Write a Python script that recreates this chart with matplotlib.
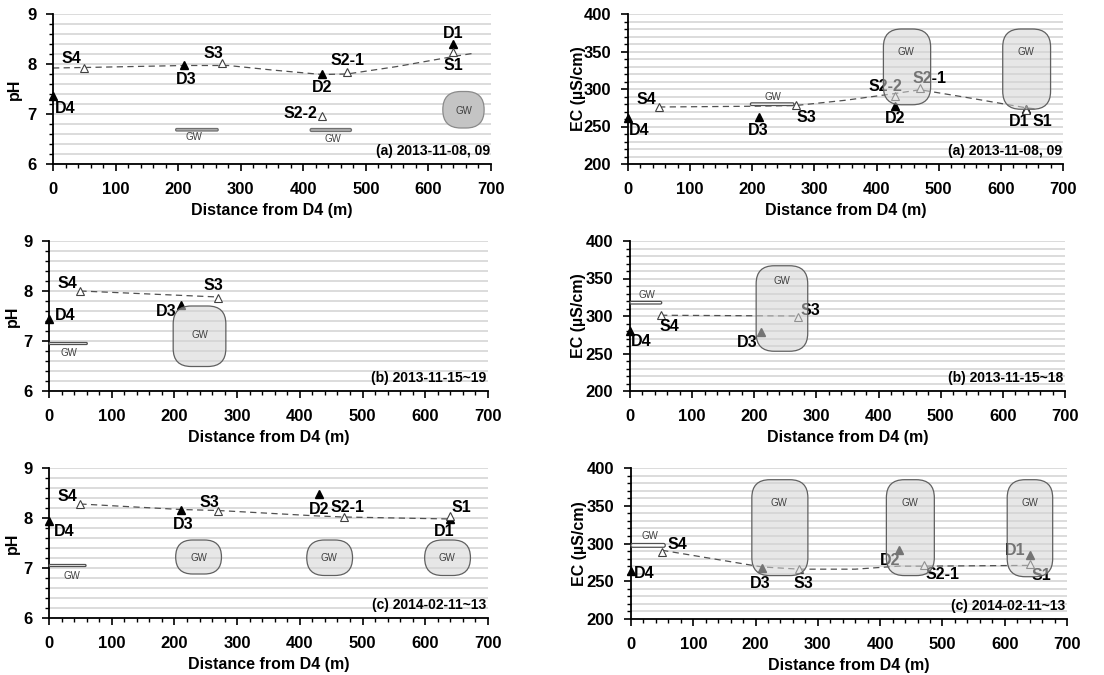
import matplotlib
matplotlib.use("Agg")
import matplotlib.pyplot as plt
from matplotlib.patches import FancyBboxPatch
from matplotlib.ticker import MultipleLocator

plt.rcParams['font.family'] = ['Liberation Sans', 'DejaVu Sans']

# stations and their distance from D4 (m)
stations = ['D4', 'S4', 'D3', 'S3', 'D2', 'S2-1', 'S2-2', 'D1', 'S1']
distance = [0, 50, 210, 270, 430, 470, 430, 640, 640]

# pH / EC per survey (None = not sampled)
ph_a = [7.37, 7.93, 7.98, 8.02, 7.80, 7.85, 6.97, 8.40, 8.24]
ph_b = [7.45, 8.00, 7.72, 7.87, None, None, None, None, None]
ph_c = [7.94, 8.28, 8.17, 8.14, 8.48, 8.02, None, 7.98, 8.04]
ec_a = [261, 276, 263, 279, 278, 302, 291, 274, 272]
ec_b = [280, 302, 279, 299, None, None, None, None, None]
ec_c = [263, 289, 267, 266, 292, 271, None, 285, 273]

# dashed trend lines
trend_ph_a_x = [0, 50, 130, 210, 280, 350, 430, 470, 550, 640, 670]
trend_ph_a_y = [7.92, 7.93, 7.95, 7.97, 7.97, 7.88, 7.79, 7.80, 7.95, 8.15, 8.21]
trend_ec_a_x = [50, 200, 270, 350, 430, 470, 550, 640, 660]
trend_ec_a_y = [276, 277, 278, 285, 294, 299, 288, 275, 273]
trend_ph_b_x = [50, 270]
trend_ph_b_y = [8.00, 7.88]
trend_ec_b_x = [50, 270]
trend_ec_b_y = [301, 300]
trend_ph_c_x = [50, 210, 270, 430, 470, 640]
trend_ph_c_y = [8.28, 8.17, 8.15, 8.04, 8.02, 7.98]
trend_ec_c_x = [50, 210, 270, 360, 430, 470, 640]
trend_ec_c_y = [291, 269, 266, 266, 270, 270, 271]

# groundwater (GW) zones: x0, x1, y0, y1, kind
gw_ph_a = [(196, 264, 6.66, 6.71, 'bardark'), (411, 477, 6.65, 6.71, 'bardark'),
           (623, 689, 6.72, 7.45, 'dark')]
gw_ec_a = [(197, 267, 278, 281.5, 'bar'), (411, 487, 279, 380, 'box'),
           (603, 680, 273, 380, 'box')]
gw_ph_b = [(0, 61, 6.93, 6.97, 'bar'), (198, 282, 6.49, 7.70, 'box')]
gw_ec_b = [(0, 51, 316, 319.5, 'bar'), (203, 286, 253, 367, 'box')]
gw_ph_c = [(0, 59, 7.03, 7.07, 'bar'), (202, 275, 6.88, 7.56, 'box'),
           (411, 484, 6.85, 7.56, 'box'), (599, 672, 6.85, 7.56, 'box')]
gw_ec_c = [(0, 55, 295, 300, 'bar'), (194, 284, 257.5, 384.5, 'box'),
           (410, 487, 257.5, 384.5, 'box'), (604, 677, 256, 384.5, 'box')]
# GW text positions
gwtxt_ph_a = [(226, 6.53), (448, 6.50), (656, 7.07)]
gwtxt_ec_a = [(233, 289.5), (448, 349), (641, 349)]
gwtxt_ph_b = [(32, 6.77), (240, 7.12)]
gwtxt_ec_b = [(28, 328.6), (244, 346)]
gwtxt_ph_c = [(36, 6.84), (239, 7.20), (447, 7.20), (635, 7.20)]
gwtxt_ec_c = [(31, 310), (237, 353.5), (448, 353.5), (641, 353.5)]

# label offsets in pixels (dx, dy, ha)
lab_ph_a = {'D4': (2, -13, 'left'), 'S4': (-3, 9, 'right'), 'D3': (2, -14, 'center'),
            'S3': (-9, 9, 'center'), 'D2': (0, -14, 'center'), 'S2-1': (0, 11, 'center'),
            'S2-2': (-5, 2, 'right'), 'D1': (0, 11, 'center'), 'S1': (0, -14, 'center')}
lab_ec_a = {'D4': (1, -12, 'left'), 'S4': (-3, 8, 'right'), 'D3': (0, -14, 'center'),
            'S3': (1, -13, 'left'), 'D2': (0, -13, 'center'), 'S2-2': (-10, 9, 'center'),
            'S2-1': (9, 9, 'center'), 'D1': (-7, -13, 'center'), 'S1': (17, -12, 'center')}
lab_ph_b = {'D4': (6, 3, 'left'), 'S4': (-3, 7, 'right'), 'D3': (-4, -7, 'right'),
            'S3': (-5, 12, 'center')}
lab_ec_b = {'D4': (1, -11, 'left'), 'S4': (-2, -12, 'left'), 'D3': (-3, -11, 'right'),
            'S3': (3, 6, 'left')}
lab_ph_c = {'D4': (5, -10, 'left'), 'S4': (-3, 8, 'right'), 'D3': (2, -15, 'center'),
            'S3': (-9, 9, 'center'), 'D2': (0, -15, 'center'), 'S2-1': (4, 9, 'center'),
            'D1': (-6, -12, 'center'), 'S1': (1, 9, 'left')}
lab_ec_c = {'D4': (3, -2, 'left'), 'S4': (5, 7, 'left'), 'D3': (-2, -15, 'center'),
            'S3': (4, -14, 'center'), 'D2': (-9, -11, 'center'), 'S2-1': (2, -9, 'left'),
            'D1': (-4, 4, 'right'), 'S1': (2, -12, 'left')}

W, H = 1104, 675
fig = plt.figure(figsize=(W / 100, H / 100), dpi=100)


def panel(rect, ylim, ymajor, yminor, ylabel, ylabx, vals, tx, ty, gw, gwtxt, labs, title):
    l, r, t, b = rect
    ax = fig.add_axes([l / W, 1 - b / H, (r - l) / W, (b - t) / H])
    ax.set_xlim(0, 700)
    ax.set_ylim(*ylim)
    ax.xaxis.set_major_locator(MultipleLocator(100))
    ax.xaxis.set_minor_locator(MultipleLocator(20))
    ax.yaxis.set_major_locator(MultipleLocator(ymajor))
    ax.yaxis.set_minor_locator(MultipleLocator(yminor))
    for s in ['top', 'right']:
        ax.spines[s].set_visible(False)
    for s in ['left', 'bottom']:
        ax.spines[s].set_linewidth(1.3)
    ax.tick_params(which='major', length=5, width=1.2, labelsize=12)
    ax.tick_params(which='minor', length=3, width=1.0)
    ax.tick_params(axis='x', which='major', pad=8)
    ax.tick_params(axis='y', which='major', pad=7)
    for lb in ax.get_xticklabels() + ax.get_yticklabels():
        lb.set_fontweight('bold')
    ax.grid(axis='y', which='both', color='#d9d9d9', lw=1.3)
    ax.set_axisbelow(True)
    ax.set_xlabel('Distance from D4 (m)', fontsize=11.5, fontweight='bold', labelpad=4)
    ax.set_ylabel(ylabel, fontsize=11.5, fontweight='bold')
    ax.yaxis.set_label_coords(ylabx, 0.5)

    ax.plot(tx, ty, ls=(0, (5, 3.5)), color='#505050', lw=0.9, zorder=2)

    for name, x, v in zip(stations, distance, vals):
        if v is None:
            continue
        if name.startswith('D'):
            ax.plot(x, v, '^', ms=5.5, color='black', clip_on=False, zorder=3)
        else:
            ax.plot(x, v, '^', ms=5.5, mfc='white', mec='#404040', mew=0.8,
                    clip_on=False, zorder=3)
        dx, dy, ha = labs[name]
        ax.annotate(name, (x, v), xytext=(dx * 0.72, dy * 0.72), textcoords='offset points',
                    ha=ha, va='center', fontsize=11.5, fontweight='bold', zorder=3)

    # pixel scale for rounded corners
    w_px = r - l
    h_px = b - t
    xpp = 700 / w_px
    ypp = (ylim[1] - ylim[0]) / h_px
    for x0, x1, y0, y1, kind in gw:
        bw = (x1 - x0) / xpp
        bh = (y1 - y0) / ypp
        rr = min(18, bw / 2 - 0.1, bh / 2 - 0.1)
        if kind == 'box':
            fc, ec, al = '#d4d4d4', '#606060', 0.55
        elif kind == 'dark':
            fc, ec, al = '#c4c4c4', '#8a8a8a', 1.0
        elif kind == 'bardark':
            fc, ec, al = '#b0b0b0', '#707070', 1.0
        else:
            fc, ec, al = 'white', '#505050', 1.0
        style = 'round,pad=0,rounding_size=%f' % (rr * xpp)
        p = FancyBboxPatch((x0, y0), x1 - x0, y1 - y0, boxstyle=style,
                           mutation_aspect=ypp / xpp, fc=fc, ec='none', alpha=al,
                           zorder=4, clip_on=False)
        ax.add_patch(p)
        p2 = FancyBboxPatch((x0, y0), x1 - x0, y1 - y0, boxstyle=style,
                            mutation_aspect=ypp / xpp, fc='none', ec=ec, lw=0.9,
                            zorder=4, clip_on=False)
        ax.add_patch(p2)
    for gx, gy in gwtxt:
        ax.text(gx, gy, 'GW', fontsize=7, color='#404040', ha='center', va='center',
                zorder=5)

    ax.text(0.997, 0.04, title, transform=ax.transAxes, ha='right', va='bottom',
            fontsize=10, fontweight='bold', zorder=5)
    return ax


panel((53, 491, 14, 164), (6, 9), 1, 0.2, 'pH', -0.07, ph_a, trend_ph_a_x, trend_ph_a_y,
      gw_ph_a, gwtxt_ph_a, lab_ph_a, '(a) 2013-11-08, 09')
panel((628, 1063, 14, 164), (200, 400), 50, 10, 'EC (µS/cm)', -0.097, ec_a, trend_ec_a_x,
      trend_ec_a_y, gw_ec_a, gwtxt_ec_a, lab_ec_a, '(a) 2013-11-08, 09')
panel((49, 488, 241, 391), (6, 9), 1, 0.2, 'pH', -0.066, ph_b, trend_ph_b_x, trend_ph_b_y,
      gw_ph_b, gwtxt_ph_b, lab_ph_b, '(b) 2013-11-15~19')
panel((630, 1065, 241, 391), (200, 400), 50, 10, 'EC (µS/cm)', -0.1, ec_b, trend_ec_b_x,
      trend_ec_b_y, gw_ec_b, gwtxt_ec_b, lab_ec_b, '(b) 2013-11-15~18')
panel((49, 488, 468, 618), (6, 9), 1, 0.2, 'pH', -0.066, ph_c, trend_ph_c_x, trend_ph_c_y,
      gw_ph_c, gwtxt_ph_c, lab_ph_c, '(c) 2014-02-11~13')
panel((631, 1067, 468, 619), (200, 400), 50, 10, 'EC (µS/cm)', -0.1, ec_c, trend_ec_c_x,
      trend_ec_c_y, gw_ec_c, gwtxt_ec_c, lab_ec_c, '(c) 2014-02-11~13')

fig.savefig('out.png', dpi=100)
